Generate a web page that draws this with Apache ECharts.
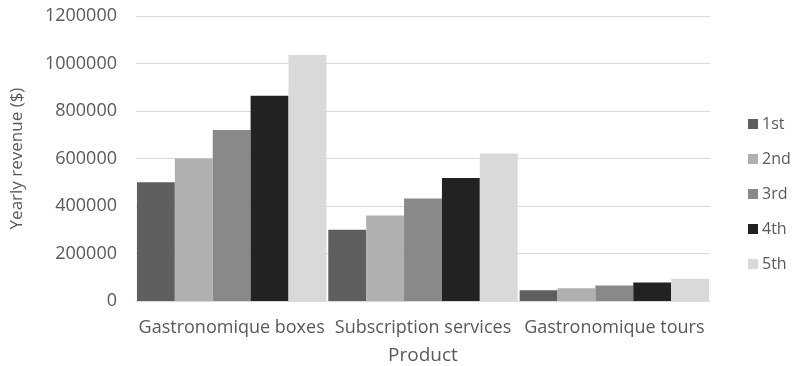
<!DOCTYPE html>
<html><head><meta charset="utf-8">
<script src="https://cdn.jsdelivr.net/npm/echarts@6/dist/echarts.min.js"></script>
<style>html,body{margin:0;padding:0;background:#fff}#c{width:795px;height:366px}</style>
</head><body><div id="c"></div>
<script>
const categories = ['Gastronomique boxes', 'Subscription services', 'Gastronomique tours'];
const seriesNames = ['1st', '2nd', '3rd', '4th', '5th'];
const v1st = [500000, 300000, 45000];
const v2nd = [600000, 360000, 54000];
const v3rd = [720000, 432000, 65000];
const v4th = [864000, 518000, 78000];
const v5th = [1036000, 621000, 94000];
const yTicks = [0, 200000, 400000, 600000, 800000, 1000000, 1200000];
const colors = ['#5f5f5f', '#b0b0b0', '#898989', '#222222', '#d9d9d9'];
const values = [v1st, v2nd, v3rd, v4th, v5th];
const FONT = 'Open Sans';
const chart = echarts.init(document.getElementById('c'));
chart.setOption({
  animation: false,
  textStyle: {fontFamily: FONT},
  grid: {left: 136, right: 85, top: 16, bottom: 65, outerBoundsMode: 'none', containLabel: false},
  legend: {
    orient: 'vertical', left: 743, top: 110,
    itemWidth: 10, itemHeight: 10, itemGap: 17, itemStyle: {borderWidth: 0},
    icon: 'rect',
    textStyle: {fontFamily: FONT, fontSize: 16, color: '#595959', lineHeight: 18, padding: [0, 0, 0, -1]},
    data: seriesNames
  },
  xAxis: {
    type: 'category', data: categories,
    name: 'Product', nameLocation: 'middle', nameGap: 45,
    nameTextStyle: {fontFamily: FONT, fontSize: 19, color: '#595959'},
    axisLine: {lineStyle: {color: '#d9d9d9', width: 1}},
    axisTick: {show: false},
    axisLabel: {fontFamily: FONT, fontSize: 18, color: '#595959', margin: 18, interval: 0, hideOverlap: false}
  },
  yAxis: {
    type: 'value', min: yTicks[0], max: yTicks[yTicks.length - 1], interval: 200000,
    name: 'Yearly revenue ($)', nameLocation: 'middle', nameGap: 110,
    nameTextStyle: {fontFamily: FONT, fontSize: 17, color: '#595959'},
    axisLine: {show: false}, axisTick: {show: false},
    axisLabel: {fontFamily: FONT, fontSize: 18, color: '#595959', margin: 19, formatter: v => String(v)},
    splitLine: {lineStyle: {color: '#d9d9d9', width: 1}}
  },
  series: seriesNames.map((n, i) => ({
    name: n, type: 'bar', data: values[i],
    barGap: '0%', barCategoryGap: '1%',
    itemStyle: {color: colors[i]}
  }))
});
</script></body></html>
